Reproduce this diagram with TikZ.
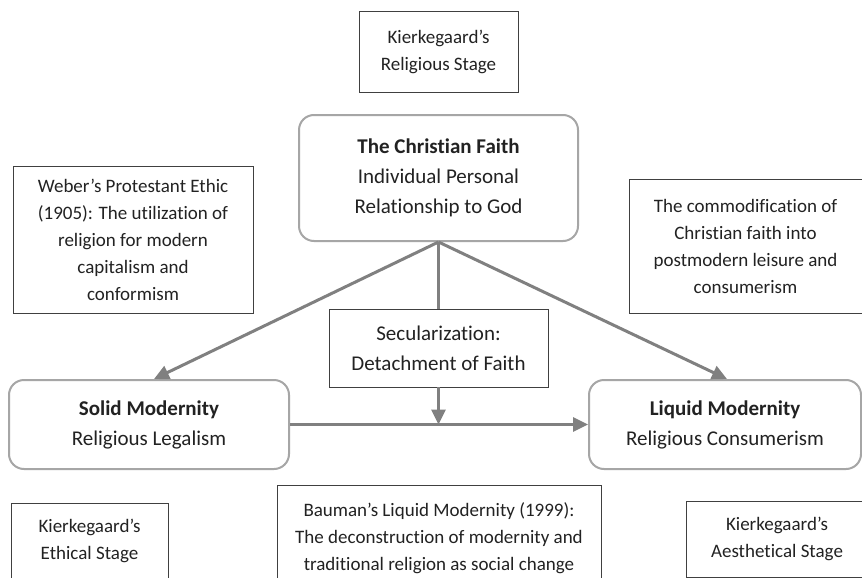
\documentclass[tikz,border=0pt]{standalone}
\usepackage{fontspec}
\setmainfont{Carlito}[Ligatures=NoCommon]
\usetikzlibrary{arrows.meta,calc}
\definecolor{txt}{HTML}{222222}
\definecolor{rbord}{HTML}{A6A6A6}
\definecolor{sbord}{HTML}{404040}
\definecolor{arrc}{HTML}{808080}
\tikzset{
  bigtext/.style={font=\fontsize{21}{30}\selectfont, text=txt, align=center},
  smalltext/.style={font=\fontsize{19}{27}\selectfont, text=txt, align=center},
  roundbox/.style={bigtext, draw=rbord, line width=2pt, rounded corners=15pt, inner sep=0pt},
  notebox/.style={smalltext, draw=sbord, line width=0.9pt, inner sep=0pt},
  secbox/.style={bigtext, draw=sbord, line width=0.9pt, inner sep=0pt},
  conn/.style={draw=arrc, line width=3pt},
  arr/.style={conn, -{Triangle[length=15pt,width=14pt]}},
}
\begin{document}
\begin{tikzpicture}[x=1pt,y=-1pt]
\useasboundingbox (0,0) rectangle (862,578);
\clip (0,0) rectangle (862,578);
\fill[white] (0,0) rectangle (862,578);

\node[notebox, minimum width=159pt, minimum height=81pt] (rel) at (438.5,51.5)
  {Kierkegaard’s\\Religious Stage};
\node[roundbox, minimum width=279pt, minimum height=126pt] (faith) at (438.5,178)
  {\textbf{The Christian Faith}\\Individual Personal\\Relationship to God};
\node[notebox, minimum width=240pt, minimum height=147pt] (weber) at (133,239.5)
  {Weber’s Protestant Ethic\\(1905): The utilization of\\religion for modern\\capitalism and\\conformism};
\node[notebox, minimum width=233pt, minimum height=134pt] (commod) at (745.5,246)
  {The commodification of\\Christian faith into\\postmodern leisure and\\consumerism};
\node[secbox, minimum width=219pt, minimum height=78pt] (secul) at (438.5,348)
  {Secularization:\\Detachment of Faith};
\node[roundbox, minimum width=280pt, minimum height=89pt] (solid) at (149,424.5)
  {\textbf{Solid Modernity}\\Religious Legalism};
\node[roundbox, minimum width=272pt, minimum height=89pt] (liquid) at (725,424.5)
  {\textbf{Liquid Modernity}\\Religious Consumerism};
\node[notebox, minimum width=157pt, minimum height=76pt] (ethical) at (89.5,541)
  {Kierkegaard’s\\Ethical Stage};
\node[notebox, minimum width=324pt, minimum height=106pt] (bauman) at (439,538)
  {Bauman’s Liquid Modernity (1999):\\The deconstruction of modernity and\\traditional religion as social change};
\node[notebox, minimum width=182pt, minimum height=76pt] (aesth) at (777,539)
  {Kierkegaard’s\\Aesthetical Stage};

\coordinate (mid) at (secul.south |- solid.east);
\draw[conn] (faith.south) -- (secul.north);
\draw[arr] (faith.south) -- ([xshift=5pt]solid.north);
\draw[arr] (faith.south) -- ([xshift=2pt]liquid.north);
\draw[arr] (solid.east) -- (liquid.west);
\draw[arr] (secul.south) -- (mid);
\end{tikzpicture}
\end{document}
